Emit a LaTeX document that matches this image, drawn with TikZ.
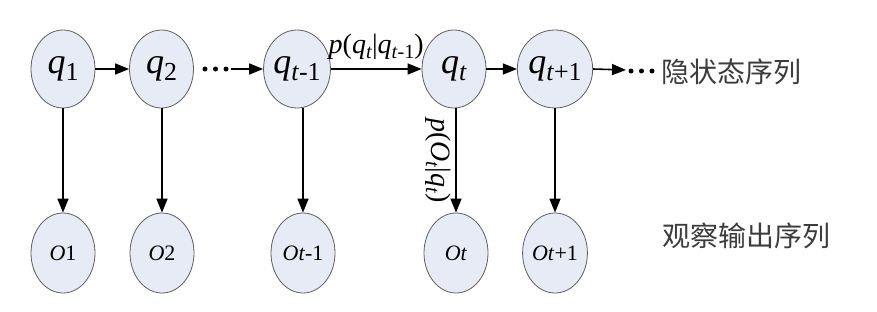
\documentclass[tikz,border=0pt]{standalone}
\usepackage{fontspec}
\usepackage{graphicx}
\setmainfont{LiberationSerif}[Extension=.ttf,UprightFont=*-Regular,ItalicFont=*-Italic,BoldFont=*-Bold,BoldItalicFont=*-BoldItalic]
\newfontfamily\cjk{Noto Sans CJK SC}
\usetikzlibrary{shapes.geometric,arrows.meta}
\definecolor{nodefill}{RGB}{230,235,246}
\definecolor{nodeline}{RGB}{95,95,95}
\definecolor{cjkgray}{RGB}{60,60,60}
\newcommand{\sbx}[1]{\raisebox{-0.2em}{\scalebox{0.72}{#1}}}
\newcommand{\qlab}[1]{\textit{q}\sbx{#1}}
\begin{document}
\begin{tikzpicture}[x=1pt,y=-1pt,
  st/.style={ellipse,draw=nodeline,line width=0.8pt,fill=nodefill,
    minimum width=64pt,minimum height=78pt,inner sep=0pt,
    font=\rmfamily\fontsize{36}{36}\selectfont},
  ob/.style={ellipse,draw=nodeline,line width=0.8pt,fill=nodefill,
    minimum width=64pt,minimum height=80pt,inner sep=0pt,
    font=\rmfamily\fontsize{22}{22}\selectfont},
  arr/.style={line width=1.6pt,-{Triangle[length=14pt,width=11pt]}},
  dot/.style={circle,fill=black,inner sep=0pt,minimum size=5pt},
  lab/.style={font=\rmfamily\fontsize{28}{28}\selectfont,inner sep=0pt},
  cn/.style={font=\cjk\fontsize{28}{28}\selectfont,text=cjkgray,inner sep=0pt,anchor=west}]
\useasboundingbox (0,0) rectangle (877,311);
% hidden states
\node[st] (q1) at (63,69) {\qlab{1}};
\node[st] (q2) at (161.5,69) {\qlab{2}};
\node[st] (qtm1) at (297,69) {\qlab{\textit{t}-1}};
\node[st] (qt) at (454,69) {\qlab{\textit{t}}};
\node[st] (qtp1) at (555,69) {\qlab{\textit{t}+1}};
% observations
\node[ob] (o1) at (63,253) {\textit{O}1};
\node[ob] (o2) at (162,253) {\textit{O}2};
\node[ob] (otm1) at (303,253) {\textit{Ot}-1};
\node[ob] (ot) at (456,253) {\textit{Ot}};
\node[ob] (otp1) at (555,253) {\textit{Ot}+1};
% dots
\node[dot] (dl1) at (205,69) {};
\node[dot] (dl2) at (215.5,69) {};
\node[dot] (dl3) at (226,69) {};
\coordinate (dla) at (231,69);
\node[dot] (dr1) at (631,71) {};
\node[dot] (dr2) at (641.5,71) {};
\node[dot] (dr3) at (652,71) {};
\coordinate (dra) at (626,70);
% horizontal arrows
\draw[arr] (q1) -- (q2);
\draw[arr] (dla) -- (qtm1);
\draw[arr] (qtm1) -- node[lab,above=9pt] {\textit{p}(\qlab{\textit{t}}|\qlab{\textit{t}-1})} (qt);
\draw[arr] (qt) -- (qtp1);
\draw[arr] (qtp1.east) -- (dra);
% vertical arrows
\draw[arr] (q1) -- (o1);
\draw[arr] (q2.south -| o2) -- (o2);
\draw[arr] (qtm1.south -| otm1) -- (otm1);
\draw[arr] (qt.south -| ot) -- node[lab,rotate=-90,anchor=north,yshift=-4pt] {\textit{p}(\textit{O}\sbx{\textit{t}}|\qlab{\textit{t}})} (ot);
\draw[arr] (qtp1) -- (otp1);
% labels
\node[cn] (hid) at (661,72) {隐状态序列};
\node[cn] (obs) at (662,236) {观察输出序列};
\end{tikzpicture}
\end{document}
